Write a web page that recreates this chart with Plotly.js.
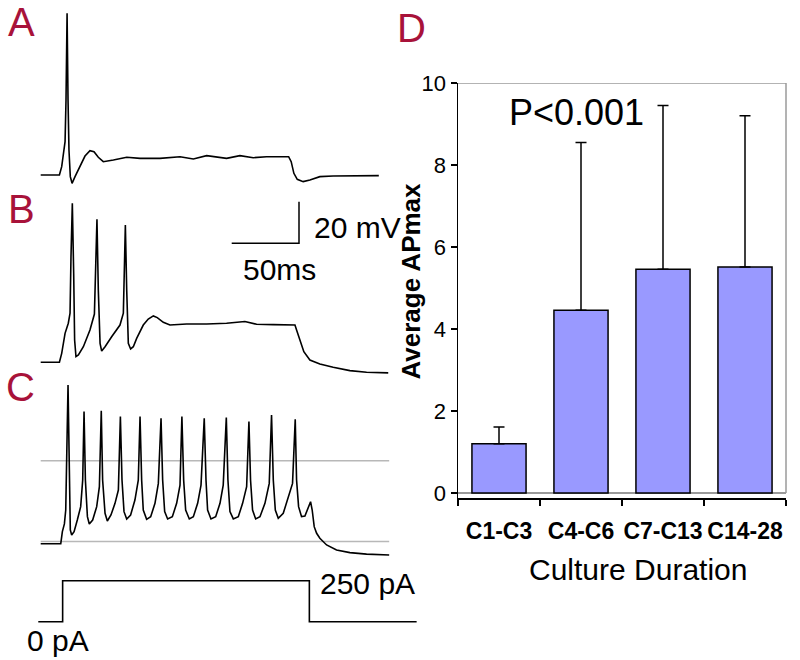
<!DOCTYPE html>
<html>
<head>
<meta charset="utf-8">
<script src="https://cdn.plot.ly/plotly-3.0.1.min.js"></script>
<style>html,body{margin:0;padding:0;background:#fff;}#chart{width:800px;height:660px;}</style>
</head>
<body>
<div id="chart"></div>
<script>
// ---- Panel A: single action potential (time in ms, voltage in mV relative to rest)
const tA = [0,13.9,15.6,16.8,18.1,18.8,19.6,20.3,21.0,22.0,23.3,25.5,29.2,32.9,36.6,39.6,42.8,46.5,54.0,63.9,73.8,88.6,103.5,113.4,123.3,138.1,148.0,157.9,167.8,184.2,186.1,188.1,190.6,195.0,200.0,207.4,217.3,232.2,251.2];
const vA = [0,0,4.0,10.4,16.0,36.1,77.7,36.1,12.0,-0.8,-4.0,-0.8,4.0,9.1,11.7,11.2,8.5,6.4,7.2,8.5,8.0,8.0,8.8,7.7,9.3,8.0,9.3,8.3,8.8,8.8,6.4,0.8,-2.1,-3.2,-2.4,-0.8,-0.5,-0.3,-0.3];

// ---- Panel B: three action potentials
const tB = [0,13.9,15.6,18.1,20.5,21.8,22.5,23.5,24.5,25.2,26.2,28.0,31.7,36.6,39.9,40.8,41.8,42.8,44.1,45.3,47.8,52.7,58.9,61.4,62.1,62.9,63.9,65.1,66.8,68.8,71.3,76.2,79.9,83.7,86.6,91.1,96.0,108.4,123.3,138.1,151.7,160.4,172.8,188.9,190.1,192.6,195.5,200.0,207.4,217.3,229.7,242.1,258.2];
const vB = [0,0,4.3,13.9,18.8,23.6,50.8,76.4,42.8,10.7,2.7,3.5,7.5,15.5,23.2,42.8,68.8,34.8,9.1,5.4,7.5,12.3,17.9,23.6,42.8,66.0,34.8,9.1,6.4,7.5,11.5,17.9,20.8,22.3,21.5,19.2,17.9,18.4,18.4,18.8,19.6,18.3,18.1,17.9,15.5,10.7,5.1,1.1,-0.8,-2.4,-4.0,-4.8,-5.1];

// ---- Panel C: repetitive firing
const tC = [0,14.9,16.1,17.6,18.6,19.3,20.3,21.3,22.0,23.0,24.8,27.2,29.7,31.2,32.2,33.2,34.7,36.1,38.6,41.6,43.6,45.0,46.0,47.8,49.5,52.2,55.2,57.7,59.2,60.4,61.9,63.9,66.8,70.0,72.5,73.8,75.0,76.2,78.7,81.7,84.9,87.4,89.4,90.6,92.1,94.3,97.8,101.0,103.5,104.9,106.2,107.7,110.4,113.4,116.6,119.1,121.5,122.8,124.0,126.5,130.0,133.2,135.6,137.9,139.1,140.6,143.1,146.8,150.0,153.0,154.7,155.9,157.4,159.7,162.9,166.6,169.8,171.5,172.8,174.3,176.5,180.2,183.9,187.1,189.1,190.1,191.6,193.8,196.3,198.8,200.5,201.7,203.2,205.0,207.4,212.4,219.8,229.7,242.1,258.9];
const vC = [0,0,5.8,9.5,16.2,35.4,76.3,35.4,6.6,4.2,5.8,11.4,17.8,30.6,63.5,30.6,13.0,9.5,11.4,17.8,27.4,63.9,30.6,14.6,10.9,13.8,19.4,25.8,61.1,30.6,15.4,11.9,13.8,21.0,30.6,61.1,30.6,16.2,11.7,13.0,19.4,29.0,60.3,30.6,15.4,11.9,13.0,19.4,28.2,61.1,30.6,16.2,11.9,13.0,19.4,28.2,60.3,30.6,16.2,11.9,13.0,19.4,28.2,60.7,30.6,15.4,11.9,13.0,19.4,27.4,58.7,30.6,16.2,11.9,13.0,19.4,29.0,61.9,30.6,16.2,12.2,14.6,22.6,29.0,59.8,30.6,17.8,13.0,13.3,17.0,20.2,16.2,8.2,5.0,2.6,-0.6,-3.0,-4.3,-5.0,-5.4];
const refLevelsC = [39.9, 1.0];
const refSpanC = [0, 258.9];

// ---- Current step
const tI = [-1.8,16.3,16.3,199.6,199.6,279.3];
const iI = [0,0,250,250,0,0];

// ---- Scale bar (50 ms, 20 mV)
const scaleT = [141.9,191.9,191.9];
const scaleV = [57.2,57.2,77.2];

// ---- Panel D: bar chart
const groups = ['C1-C3','C4-C6','C7-C13','C14-28'];
const meanAPmax = [1.2,4.46,5.46,5.51];
const sdAPmax = [0.41,4.09,3.99,3.69];
const yTicks = [0,2,4,6,8,10];

const FONT = 'Liberation Sans, Arial, Helvetica, sans-serif';
const RED = '#A8123A';
const lineStyle = {color:'#000', width:1.6};

const traces = [
  {x:tA, y:vA, xaxis:'x', yaxis:'y', mode:'lines', line:lineStyle},
  {x:tB, y:vB, xaxis:'x', yaxis:'y2', mode:'lines', line:lineStyle},
  {x:scaleT, y:scaleV, xaxis:'x', yaxis:'y2', mode:'lines', line:{color:'#000', width:1.5}},
  {x:refSpanC, y:[refLevelsC[0],refLevelsC[0]], xaxis:'x', yaxis:'y3', mode:'lines', line:{color:'#b8b8b8', width:1.5}},
  {x:refSpanC, y:[refLevelsC[1],refLevelsC[1]], xaxis:'x', yaxis:'y3', mode:'lines', line:{color:'#b8b8b8', width:1.5}},
  {x:tC, y:vC, xaxis:'x', yaxis:'y3', mode:'lines', line:lineStyle},
  {x:tI, y:iI, xaxis:'x', yaxis:'y4', mode:'lines', line:{color:'#000', width:1.6}},
  {x:groups, y:meanAPmax, xaxis:'x2', yaxis:'y5', type:'bar',
   marker:{color:'#9999FF', line:{color:'#000', width:1.5}},
   error_y:{type:'data', symmetric:false, array:sdAPmax, arrayminus:[0,0,0,0], color:'#000', thickness:1.5, width:5.5}}
];

const hidden = {visible:false, showgrid:false, zeroline:false, fixedrange:true};

const layout = {
  width:800, height:660,
  margin:{l:0, r:0, t:0, b:0},
  paper_bgcolor:'#fff', plot_bgcolor:'rgba(0,0,0,0)',
  showlegend:false,
  font:{family:FONT, color:'#000'},
  bargap:0.34,
  xaxis: Object.assign({}, hidden, {domain:[0,0.525], range:[-30.24,281.8], anchor:'y'}),
  yaxis: Object.assign({}, hidden, {domain:[0,1], range:[-233.17,84.13], anchor:'x'}),
  yaxis2: Object.assign({}, hidden, {domain:[0,1], range:[-143.13,174.18], anchor:'x', overlaying:'y'}),
  yaxis3: Object.assign({}, hidden, {domain:[0,1], range:[-55.91,261.39], anchor:'x', overlaying:'y'}),
  yaxis4: Object.assign({}, hidden, {domain:[0,1], range:[-233.5,3790.9], anchor:'x', overlaying:'y'}),
  xaxis2: {domain:[0.5725,0.9825], anchor:'y5', type:'category', range:[-0.5,3.5],
    showline:true, linecolor:'#000', linewidth:1.5, ticks:'outside', tickson:'boundaries',
    ticklen:6, tickwidth:1.5, tickcolor:'#000', showgrid:false, zeroline:false, tickangle:0,
    ticklabelstandoff:12,
    tickfont:{family:FONT, size:23, weight:'bold', color:'#000'}, fixedrange:true},
  yaxis5: {domain:[0.24545,0.87424], anchor:'x2', range:[-0.122,10],
    tickvals:yTicks, ticktext:yTicks.map(String),
    showline:true, linecolor:'#000', linewidth:1.5, ticks:'outside', ticklen:6, tickwidth:1.5, tickcolor:'#000',
    showgrid:false, zeroline:false, tickfont:{family:FONT, size:22, color:'#000'}, fixedrange:true},
  shapes:[
    {type:'line', xref:'x2 domain', yref:'y5', x0:0, x1:1, y0:0, y1:0, line:{color:'#9a9a9a', width:2}, layer:'below'},
    {type:'line', xref:'x2 domain', yref:'y5', x0:0, x1:1, y0:10, y1:10, line:{color:'#9a9a9a', width:1.5}, layer:'below'},
    {type:'line', xref:'x2 domain', yref:'y5', x0:1, x1:1, y0:0, y1:10, line:{color:'#9a9a9a', width:1.5}, layer:'below'}
  ],
  annotations:[
    {text:'A', xref:'paper', yref:'paper', x:0.02625, y:0.967, showarrow:false, xanchor:'center', yanchor:'middle', font:{family:FONT, size:40, color:RED}},
    {text:'B', xref:'paper', yref:'paper', x:0.02625, y:0.6833, showarrow:false, xanchor:'center', yanchor:'middle', font:{family:FONT, size:40, color:RED}},
    {text:'C', xref:'paper', yref:'paper', x:0.025, y:0.4141, showarrow:false, xanchor:'center', yanchor:'middle', font:{family:FONT, size:40, color:RED}},
    {text:'D', xref:'paper', yref:'paper', x:0.51375, y:0.9576, showarrow:false, xanchor:'center', yanchor:'middle', font:{family:FONT, size:40, color:RED}},
    {text:'20 mV', xref:'paper', yref:'paper', x:0.3896, y:0.6553, showarrow:false, xanchor:'left', yanchor:'middle', font:{family:FONT, size:30}},
    {text:'50ms', xref:'paper', yref:'paper', x:0.34875, y:0.5924, showarrow:false, xanchor:'center', yanchor:'middle', font:{family:FONT, size:30}},
    {text:'250 pA', xref:'paper', yref:'paper', x:0.4594, y:0.1152, showarrow:false, xanchor:'center', yanchor:'middle', font:{family:FONT, size:30}},
    {text:'0 pA', xref:'paper', yref:'paper', x:0.0725, y:0.0288, showarrow:false, xanchor:'center', yanchor:'middle', font:{family:FONT, size:30}},
    {text:'P<0.001', xref:'paper', yref:'paper', x:0.7209, y:0.8288, showarrow:false, xanchor:'center', yanchor:'middle', font:{family:FONT, size:36}},
    {text:'Culture Duration', xref:'paper', yref:'paper', x:0.7975, y:0.1364, showarrow:false, xanchor:'center', yanchor:'middle', font:{family:FONT, size:30}},
    {text:'<b>Average APmax</b>', xref:'paper', yref:'paper', x:0.5144, y:0.5742, showarrow:false, textangle:-90, xanchor:'center', yanchor:'middle', font:{family:FONT, size:26}}
  ]
};

Plotly.newPlot('chart', traces, layout, {displayModeBar:false, staticPlot:true});
</script>
</body>
</html>
